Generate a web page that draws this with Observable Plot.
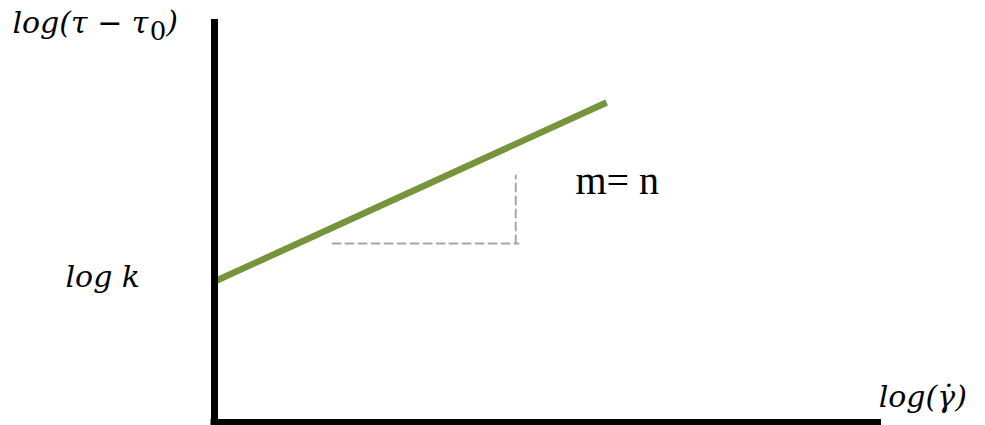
<!DOCTYPE html>
<html>
<head>
<meta charset="utf-8">
<script src="https://cdn.jsdelivr.net/npm/d3@7"></script>
<script src="https://cdn.jsdelivr.net/npm/@observablehq/plot@0.6"></script>
<style>
  html, body { margin: 0; padding: 0; background: #fff; }
</style>
</head>
<body>
<div id="chart"></div>
<script>
// Conceptual power-law (Herschel–Bulkley) log-log diagram, arbitrary units
const axisX = [0, 10];                 // horizontal axis extent
const axisY = [0, 10];                 // vertical axis extent
const fitLine = [ {x: 0, y: 3.53}, {x: 5.91, y: 8.01} ];
const slopeRun = [ {x: 1.78, y: 4.48}, {x: 4.58, y: 4.48} ];
const slopeRise = [ {x: 4.54, y: 4.48}, {x: 4.54, y: 6.18} ];
const italicLabels = [
  {x: -3.045, y: 9.98, text: "log(τ − τ0)"},
  {x: -2.246, y: 3.62, text: "log k"},
  {x: 10.01, y: 0.62, text: "log(γ̇)"}
];
const slopeLabel = [ {x: 5.44, y: 6.05, text: "m= n"} ];

const chart = Plot.plot({
  width: 985,
  height: 425,
  marginLeft: 214,
  marginRight: 107.5,
  marginTop: 22.5,
  marginBottom: 3,
  x: {domain: axisX, axis: null},
  y: {domain: axisY, axis: null},
  style: {background: "#fff"},
  marks: [
    Plot.line(slopeRun, {x: "x", y: "y", stroke: "#A6A6A6", strokeWidth: 2, strokeDasharray: "8,5"}),
    Plot.line(slopeRise, {x: "x", y: "y", stroke: "#A6A6A6", strokeWidth: 2, strokeDasharray: "8,5"}),
    Plot.line(fitLine, {x: "x", y: "y", stroke: "#77933C", strokeWidth: 6.5, strokeLinecap: "butt"}),
    Plot.ruleX([axisX[0]], {y1: axisY[0], y2: axisY[1], stroke: "#000", strokeWidth: 7, strokeLinecap: "square"}),
    Plot.ruleY([axisY[0]], {x1: axisX[0], x2: axisX[1], stroke: "#000", strokeWidth: 7, strokeLinecap: "square"}),
    Plot.text(italicLabels, {x: "x", y: "y", text: "text", textAnchor: "start", fontSize: 30,
      fontFamily: "DejaVu Serif", fontStyle: "italic", fill: "#000"}),
    Plot.text(slopeLabel, {x: "x", y: "y", text: "text", textAnchor: "start", fontSize: 40,
      fontFamily: "Liberation Serif", fill: "#000"})
  ]
});

// Typeset the subscript of τ0 (upright, lowered), keeping it real text
d3.select(chart).selectAll("text").each(function () {
  const t = d3.select(this);
  if (t.text() === "log(τ − τ0)") {
    t.text(null);
    t.append("tspan").text("log(τ − τ");
    t.append("tspan").text("0").attr("dy", "0.25em").attr("font-style", "normal")
      .attr("font-size", 26).attr("dx", "0.05em");
    t.append("tspan").text(")").attr("dy", "-0.25em");
  }
});
document.getElementById("chart").appendChild(chart);
</script>
</body>
</html>
